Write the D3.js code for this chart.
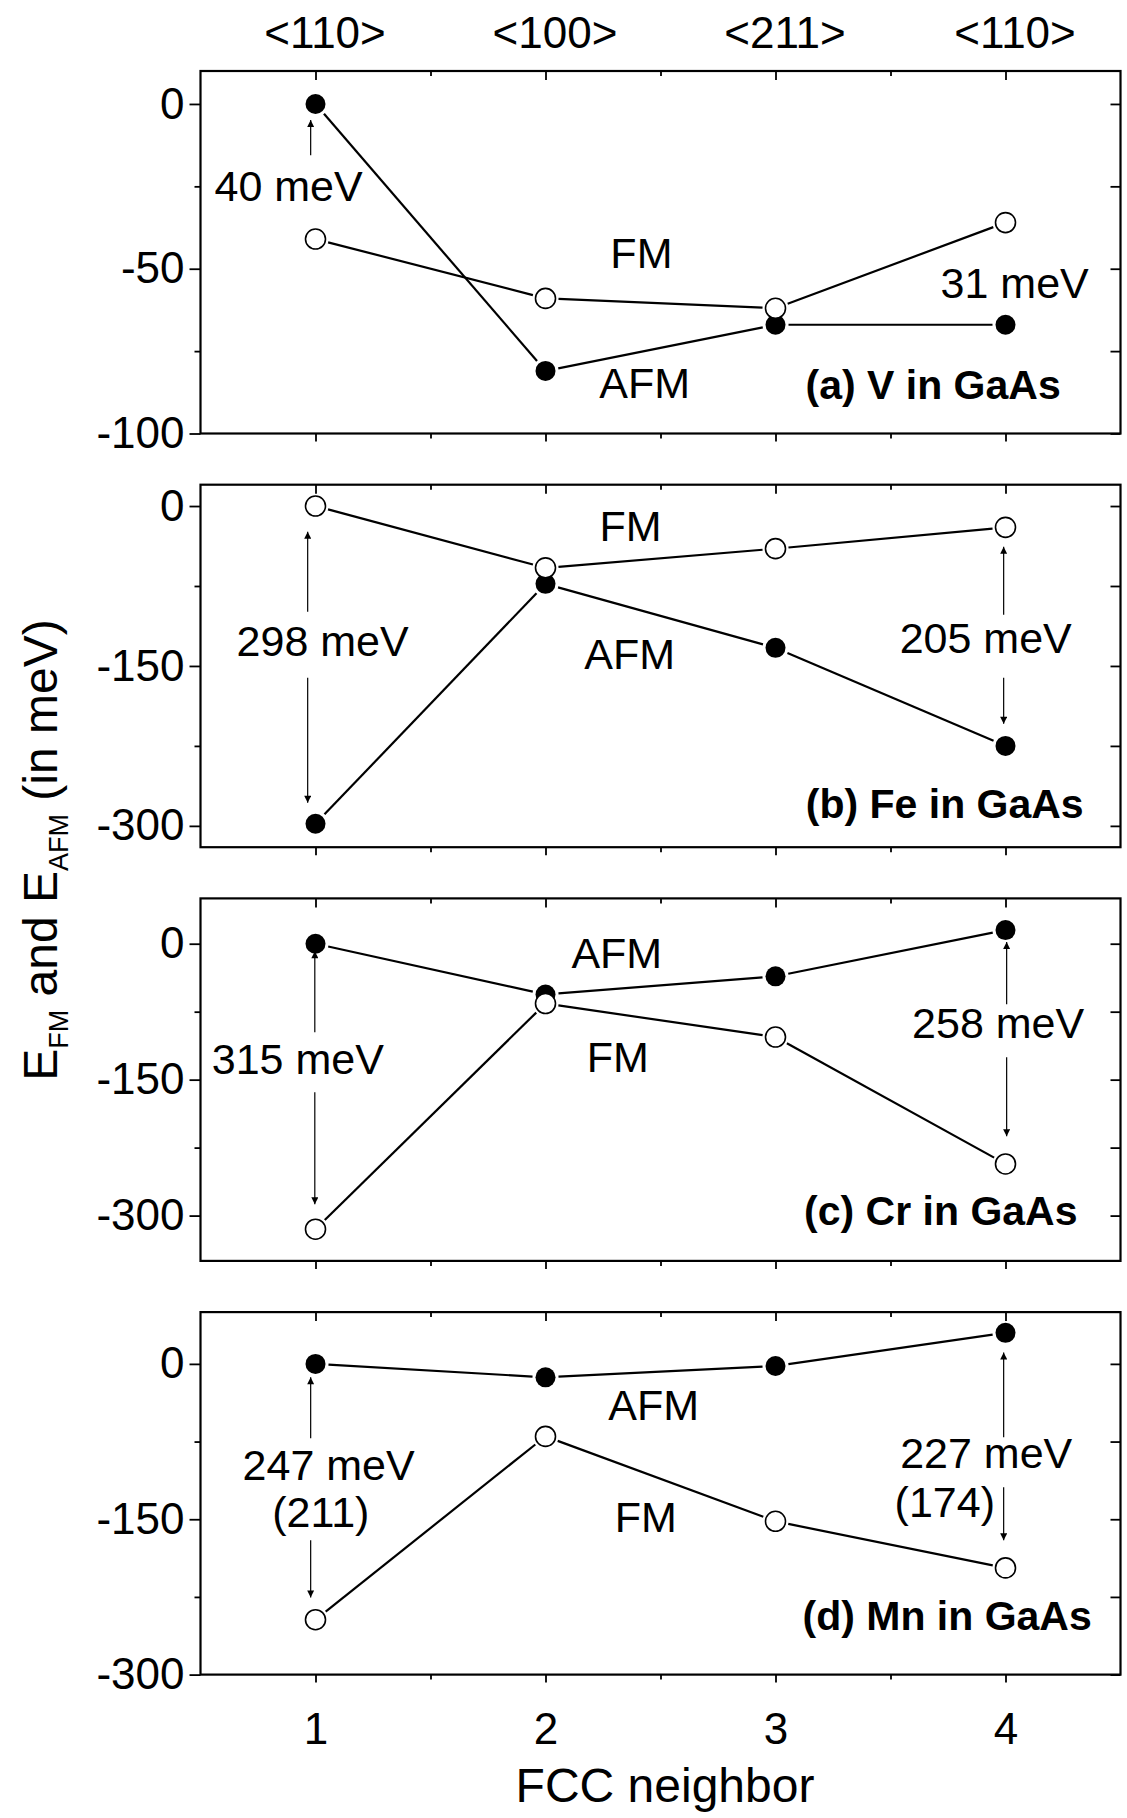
<!DOCTYPE html>
<html>
<head>
<meta charset="utf-8">
<script src="https://cdn.jsdelivr.net/npm/d3@7"></script>
<style>
    body { margin: 0; background: #fff; }
    svg { display: block; font-family: "Liberation Sans", Arial, Helvetica, sans-serif; }
</style>
</head>
<body>
<div id="chart"></div>
<script>
'use strict';

// FCC neighbor shells
const neighbors = [1, 2, 3, 4];
const shellLabels = ['<110>', '<100>', '<211>', '<110>'];

// energies in meV (FM = open circles, AFM = filled circles)
const vFM = [-41, -59, -62, -36];
const vAFM = [0, -81, -67, -67];
const feFM = [0, -58, -40, -20];
const feAFM = [-298, -73, -133, -225];
const crFM = [-315, -66, -103, -243];
const crAFM = [0, -56, -36, 15];
const mnFM = [-247, -70, -152, -197];
const mnAFM = [0, -13, -2, 30];

const panelTitles = ['(a) V in GaAs', '(b) Fe in GaAs', '(c) Cr in GaAs', '(d) Mn in GaAs'];
const panelDomains = [[-100, 10], [-320, 20], [-350, 50], [-300, 50]];
const panelMajorTicks = [[0, -50, -100], [0, -150, -300], [0, -150, -300], [0, -150, -300]];
const panelMinorTicks = [[-25, -75], [-75, -225], [-75, -225], [-75, -225]];

// annotations, placed in data units [neighbor, meV]
const vNotes = [
    { text: '40 meV', at: [0.883, -29.5] },
    { text: 'FM', at: [2.417, -49.8] },
    { text: 'AFM', at: [2.431, -89.3] },
    { text: '31 meV', at: [4.04, -58.9] }
];
const feNotes = [
    { text: 'FM', at: [2.370, -33.2] },
    { text: 'AFM', at: [2.366, -153] },
    { text: '298 meV', at: [1.031, -141] },
    { text: '205 meV', at: [3.914, -137.4] }
];
const crNotes = [
    { text: 'AFM', at: [2.310, -27.3] },
    { text: 'FM', at: [2.314, -141.4] },
    { text: '315 meV', at: [0.923, -143.9] },
    { text: '258 meV', at: [3.968, -104.5] }
];
const mnNotes = [
    { text: 'AFM', at: [2.470, -53.9] },
    { text: 'FM', at: [2.436, -162.4] },
    { text: '247 meV', at: [1.057, -111.8] },
    { text: '(211)', at: [1.023, -157.8] },
    { text: '227 meV', at: [3.916, -100.6] },
    { text: '(174)', at: [3.736, -147.9] }
];

// arrows: x, start, tip (meV)
const vArrows = [[0.979, -15.6, -4.9]];
const feArrows = [[0.966, -99.2, -24.1], [0.966, -161.1, -278.4], [3.992, -102, -38.2], [3.992, -161.1, -204.3]];
const crArrows = [[0.997, -97.6, -8.2], [0.997, -163.9, -287.5], [4.005, -66.7, 1.8], [4.005, -125.2, -212.4]];
const mnArrows = [[0.979, -71.9, -13], [0.979, -170.4, -225.5], [3.992, -70.9, 11.1], [3.992, -119.2, -170.4]];

// title positions [neighbor, meV] (right aligned)
const titleAnchors = [[4.24, -89.6], [4.340, -292.5], [4.313, -310.6], [4.375, -257.2]];

const panels = [
    { fm: vFM, afm: vAFM, notes: vNotes, arrows: vArrows },
    { fm: feFM, afm: feAFM, notes: feNotes, arrows: feArrows },
    { fm: crFM, afm: crAFM, notes: crNotes, arrows: crArrows },
    { fm: mnFM, afm: mnAFM, notes: mnNotes, arrows: mnArrows }
];

const W = 1127, H = 1818;
const left = 200.5, right = 1120.5;
const panelTop = 71, panelStep = 413.7, panelH = 362.5;
const markerR = 10;
const fmt = (d) => String(d);

const svg = d3.select('#chart').append('svg')
    .attr('width', W)
    .attr('height', H);

svg.append('defs').append('marker')
    .attr('id', 'head')
    .attr('viewBox', '0 0 10 10')
    .attr('refX', 10)
    .attr('refY', 5)
    .attr('markerUnits', 'userSpaceOnUse')
    .attr('markerWidth', 12)
    .attr('markerHeight', 7)
    .attr('orient', 'auto')
    .append('path')
    .attr('d', 'M0,0L10,5L0,10Z')
    .attr('fill', '#000');

const x = d3.scaleLinear().domain([0.5, 4.5]).range([left, right]);

function styleAxis(g) {
    g.select('.domain').remove();
    g.selectAll('line').attr('stroke', '#000').attr('stroke-width', 1.8);
    g.selectAll('text').attr('fill', '#000').attr('font-size', 44)
        .attr('font-family', '"Liberation Sans", Arial, sans-serif');
}

// segment between two points, trimmed so it stops short of the markers
function gapLine(g, p, q) {
    var dx = q[0] - p[0], dy = q[1] - p[1];
    var len = Math.sqrt(dx * dx + dy * dy);
    var cut = markerR + 3;
    if (len <= 2 * cut) {
        return;
    }
    var ux = dx / len, uy = dy / len;
    g.append('line')
        .attr('x1', p[0] + ux * cut).attr('y1', p[1] + uy * cut)
        .attr('x2', q[0] - ux * cut).attr('y2', q[1] - uy * cut)
        .attr('stroke', '#000')
        .attr('stroke-width', 2.2);
}

panels.forEach((panel, pi) => {
    var top = panelTop + pi * panelStep;
    var bottom = top + panelH;
    var y = d3.scaleLinear().domain(panelDomains[pi]).range([bottom, top]);
    var g = svg.append('g').classed('panel-' + pi, true);

    // left axis: labelled majors, short minors, ticks outward
    g.append('g').attr('transform', `translate(${left},0)`)
        .call(d3.axisLeft(y).tickValues(panelMajorTicks[pi]).tickSize(11).tickPadding(5).tickFormat(fmt))
        .call(styleAxis);
    g.append('g').attr('transform', `translate(${left},0)`)
        .call(d3.axisLeft(y).tickValues(panelMinorTicks[pi]).tickSize(6).tickFormat(''))
        .call(styleAxis);

    // right axis: ticks pointing inward
    g.append('g').attr('transform', `translate(${right},0)`)
        .call(d3.axisRight(y).tickValues(panelMajorTicks[pi].concat(panelMinorTicks[pi])).tickSize(-10).tickFormat(''))
        .call(styleAxis);

    // top axis: ticks inward, shell labels only on the first panel
    var topAxis = d3.axisTop(x).tickValues(neighbors).tickSize(-9).tickPadding(23)
        .tickFormat(pi === 0 ? (d, i) => shellLabels[i] : '');
    g.append('g').attr('transform', `translate(0,${top})`)
        .call(topAxis)
        .call(styleAxis)
        .selectAll('text').attr('dx', 9);
    g.append('g').attr('transform', `translate(0,${top})`)
        .call(d3.axisTop(x).tickValues([1.5, 2.5, 3.5]).tickSize(-5).tickFormat(''))
        .call(styleAxis);

    // bottom axis: ticks outward, numbers only on the last panel
    g.append('g').attr('transform', `translate(0,${bottom})`)
        .call(d3.axisBottom(x).tickValues(neighbors).tickSize(8).tickPadding(30)
            .tickFormat(pi === panels.length - 1 ? fmt : ''))
        .call(styleAxis);
    g.append('g').attr('transform', `translate(0,${bottom})`)
        .call(d3.axisBottom(x).tickValues([1.5, 2.5, 3.5]).tickSize(5).tickFormat(''))
        .call(styleAxis);

    // frame
    g.append('rect')
        .attr('x', left).attr('y', top)
        .attr('width', right - left).attr('height', panelH)
        .attr('fill', 'none')
        .attr('stroke', '#000')
        .attr('stroke-width', 2.2);

    var fmPts = panel.fm.map((v, i) => [x(neighbors[i]), y(v)]);
    var afmPts = panel.afm.map((v, i) => [x(neighbors[i]), y(v)]);

    var lines = g.append('g').classed('lines', true);
    d3.pairs(afmPts).forEach(([p, q]) => gapLine(lines, p, q));
    d3.pairs(fmPts).forEach(([p, q]) => gapLine(lines, p, q));

    g.append('g').selectAll('circle').data(afmPts).join('circle')
        .attr('cx', (d) => d[0]).attr('cy', (d) => d[1])
        .attr('r', markerR)
        .attr('fill', '#000');
    g.append('g').selectAll('circle').data(fmPts).join('circle')
        .attr('cx', (d) => d[0]).attr('cy', (d) => d[1])
        .attr('r', markerR)
        .attr('fill', '#fff')
        .attr('stroke', '#000')
        .attr('stroke-width', 1.6);

    // energy difference arrows
    g.append('g').selectAll('line').data(panel.arrows).join('line')
        .attr('x1', (d) => x(d[0])).attr('y1', (d) => y(d[1]))
        .attr('x2', (d) => x(d[0])).attr('y2', (d) => y(d[2]))
        .attr('stroke', '#000')
        .attr('stroke-width', 1.2)
        .attr('marker-end', 'url(#head)');

    g.append('g').selectAll('text').data(panel.notes).join('text')
        .attr('x', (d) => x(d.at[0])).attr('y', (d) => y(d.at[1]))
        .attr('text-anchor', 'middle')
        .attr('font-size', 43)
        .text((d) => d.text);

    g.append('text')
        .attr('x', x(titleAnchors[pi][0])).attr('y', y(titleAnchors[pi][1]))
        .attr('text-anchor', 'end')
        .attr('font-size', 41)
        .attr('font-weight', 'bold')
        .text(panelTitles[pi]);
});

// axis titles
svg.append('text')
    .attr('x', 665).attr('y', 1802)
    .attr('text-anchor', 'middle')
    .attr('font-size', 48)
    .text('FCC neighbor');

var yTitle = svg.append('text')
    .attr('transform', 'translate(57,850) rotate(-90)')
    .attr('text-anchor', 'middle')
    .attr('font-size', 48);
yTitle.append('tspan').text('E');
yTitle.append('tspan').attr('font-size', 27).attr('dy', 11).text('FM');
yTitle.append('tspan').attr('dy', -11).text(' and E');
yTitle.append('tspan').attr('font-size', 27).attr('dy', 11).text('AFM');
yTitle.append('tspan').attr('dy', -11).text(' (in meV)');
</script>
</body>
</html>
